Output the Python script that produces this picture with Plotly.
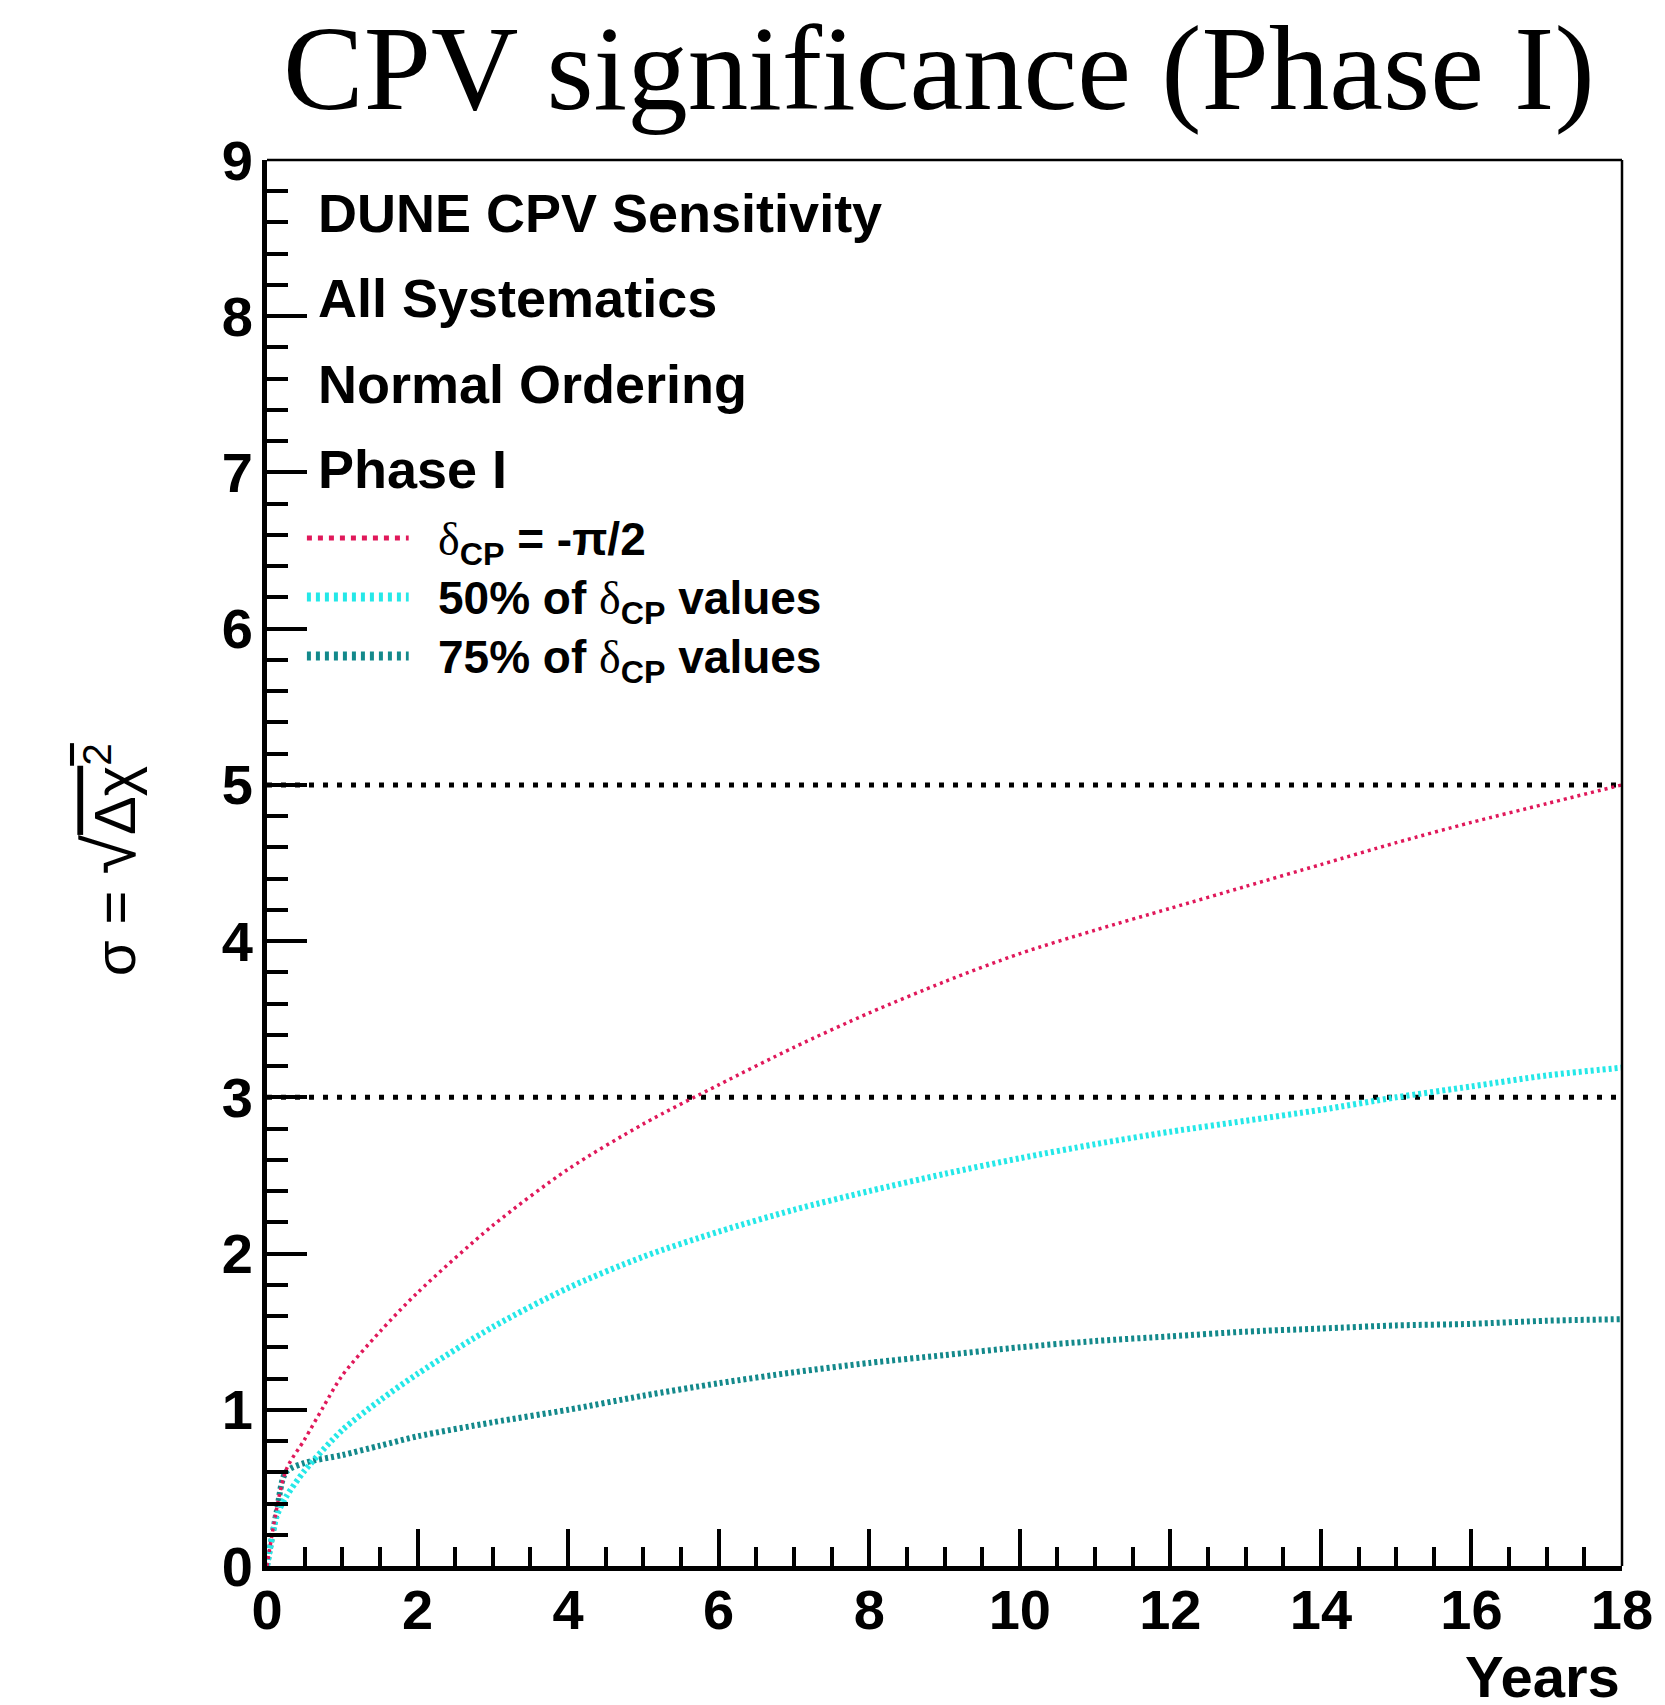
import plotly.graph_objects as go

# ---------------- data ----------------
years_red = [0, 0.25, 0.5, 0.75, 1, 1.5, 2, 3, 4, 5, 6, 7, 8, 9, 10, 11, 12, 13, 14, 15, 16, 17, 18]
sig_red = [0, 0.61, 0.81, 1.02, 1.22, 1.50, 1.75, 2.18, 2.54, 2.83, 3.08, 3.32, 3.54, 3.74, 3.92,
           4.07, 4.21, 4.35, 4.49, 4.63, 4.76, 4.88, 5.00]

years_50 = [0, 0.13, 0.25, 0.5, 1, 1.5, 2, 3, 4, 5, 6, 7, 8, 9, 10, 11, 12, 13, 14, 15, 16, 17, 18]
sig_50 = [0, 0.32, 0.44, 0.61, 0.87, 1.06, 1.23, 1.53, 1.78, 1.98, 2.14, 2.28, 2.40, 2.51, 2.61,
          2.70, 2.78, 2.85, 2.92, 3.00, 3.07, 3.14, 3.19]

years_75 = [0, 0.13, 0.25, 0.5, 1, 1.5, 2, 3, 4, 5, 6, 7, 8, 9, 10, 11, 12, 13, 14, 15, 16, 17, 18]
sig_75 = [0, 0.35, 0.60, 0.66, 0.71, 0.77, 0.83, 0.92, 1.00, 1.09, 1.17, 1.24, 1.30, 1.35, 1.40,
          1.44, 1.47, 1.50, 1.52, 1.54, 1.55, 1.57, 1.58]

sigma_levels = [3, 5]
x_span = [0, 18]
x_ticks = [0, 2, 4, 6, 8, 10, 12, 14, 16, 18]
y_ticks = [0, 1, 2, 3, 4, 5, 6, 7, 8, 9]

DELTA = "<span style='font-family:Liberation Serif;font-weight:normal'>δ</span>"
series_names = [DELTA + "<sub>CP</sub> = -π/2",
                "50% of " + DELTA + "<sub>CP</sub> values",
                "75% of " + DELTA + "<sub>CP</sub> values"]
info_lines = ["DUNE CPV Sensitivity", "All Systematics", "Normal Ordering", "Phase I"]

# ---------------- styling ----------------
W, H = 1665, 1705
L, R, T, B = 267, 1625, 160, 1566  # plot area in pixels
PW, PH = R - L, B - T

def px(x):
    return (x - L) / PW

def py(y):
    return (B - y) / PH

RED = "#e0185a"
CYAN = "#25e8e8"
TEAL = "#13898b"
SANS = "Liberation Sans"

styles = [
    dict(color=RED, width=3.5, dash="3px,4px"),
    dict(color=CYAN, width=6, dash="3px,3px"),
    dict(color=TEAL, width=6, dash="3px,3px"),
]
legend_styles = [
    dict(color=RED, width=5, dash="5px,6px"),
    dict(color=CYAN, width=9, dash="4px,5px"),
    dict(color=TEAL, width=9, dash="4px,5px"),
]

fig = go.Figure()

for lvl in sigma_levels:
    fig.add_trace(go.Scatter(x=x_span, y=[lvl, lvl], mode="lines",
                             line=dict(color="black", width=5, dash="5px,9px"),
                             showlegend=False, hoverinfo="skip"))

for xs, ys, st, nm in [(years_75, sig_75, styles[2], series_names[2]),
                       (years_50, sig_50, styles[1], series_names[1]),
                       (years_red, sig_red, styles[0], series_names[0])]:
    fig.add_trace(go.Scatter(x=xs, y=ys, mode="lines", line=dict(shape="spline", smoothing=0.8, **st),
                             name=nm, showlegend=False))

tickfont = dict(family=SANS, size=56, color="black", weight="bold")

fig.update_layout(
    width=W, height=H, autosize=False,
    margin=dict(l=L, r=W - R, t=T, b=H - B, pad=0),
    paper_bgcolor="white", plot_bgcolor="white",
    showlegend=False,
    xaxis=dict(range=[0, 18], tickvals=x_ticks, showline=True, linewidth=5, linecolor="black",
               ticks="inside", ticklen=37, tickwidth=4, tickcolor="black",
               minor=dict(dtick=0.5, ticks="inside", ticklen=19, tickwidth=4, tickcolor="black"),
               showgrid=False, zeroline=False, tickfont=tickfont, ticklabelstandoff=-9),
    yaxis=dict(range=[0, 9], tickvals=y_ticks, showline=True, linewidth=5, linecolor="black",
               ticks="inside", ticklen=40, tickwidth=4, tickcolor="black",
               minor=dict(dtick=0.2, ticks="inside", ticklen=21, tickwidth=4, tickcolor="black"),
               showgrid=False, zeroline=False, tickfont=tickfont, ticklabelstandoff=-2),
)

# top and right frame (thin)
fig.add_shape(type="line", xref="paper", yref="paper", x0=0, x1=1, y0=1, y1=1,
              line=dict(color="black", width=2.5))
fig.add_shape(type="line", xref="paper", yref="paper", x0=1, x1=1, y0=0, y1=1,
              line=dict(color="black", width=2.5))

# title
fig.add_annotation(text="CPV significance (Phase I)", xref="paper", yref="paper",
                   x=px(940), y=py(68), xanchor="center", yanchor="middle", showarrow=False,
                   font=dict(family="Liberation Serif", size=121, color="black"))

# info text
for i, t in enumerate(info_lines):
    fig.add_annotation(text=t, xref="paper", yref="paper", x=px(316), y=py(213 + 85.3 * i),
                       xanchor="left", yanchor="middle", showarrow=False,
                       font=dict(family=SANS, size=54, color="black", weight="bold"))

# legend
leg_y = [538, 597, 656]
for i, (st, nm) in enumerate(zip(legend_styles, series_names)):
    fig.add_shape(type="line", xref="paper", yref="paper", x0=px(307), x1=px(409),
                  y0=py(leg_y[i]), y1=py(leg_y[i]),
                  line=dict(color=st["color"], width=st["width"], dash=st["dash"]))
    fig.add_annotation(text=nm, xref="paper", yref="paper", x=px(436), y=py(leg_y[i] + 4),
                       xanchor="left", yanchor="middle", showarrow=False,
                       font=dict(family=SANS, size=46, color="black", weight="bold"))

# axis titles
fig.add_annotation(text="Years", xref="paper", yref="paper", x=1.0, y=py(1676),
                   xanchor="right", yanchor="middle", showarrow=False,
                   font=dict(family=SANS, size=58, color="black", weight="bold"))
fig.add_annotation(text="σ = <span style='font-size:72px'>√</span>"
                        "<span style='text-decoration:overline'>Δχ<sup>2</sup></span>",
                   xref="paper", yref="paper", x=px(110), y=py(860), textangle=-90,
                   xanchor="center", yanchor="middle", showarrow=False,
                   font=dict(family=SANS, size=58, color="black"))

fig.write_html("out.html")
